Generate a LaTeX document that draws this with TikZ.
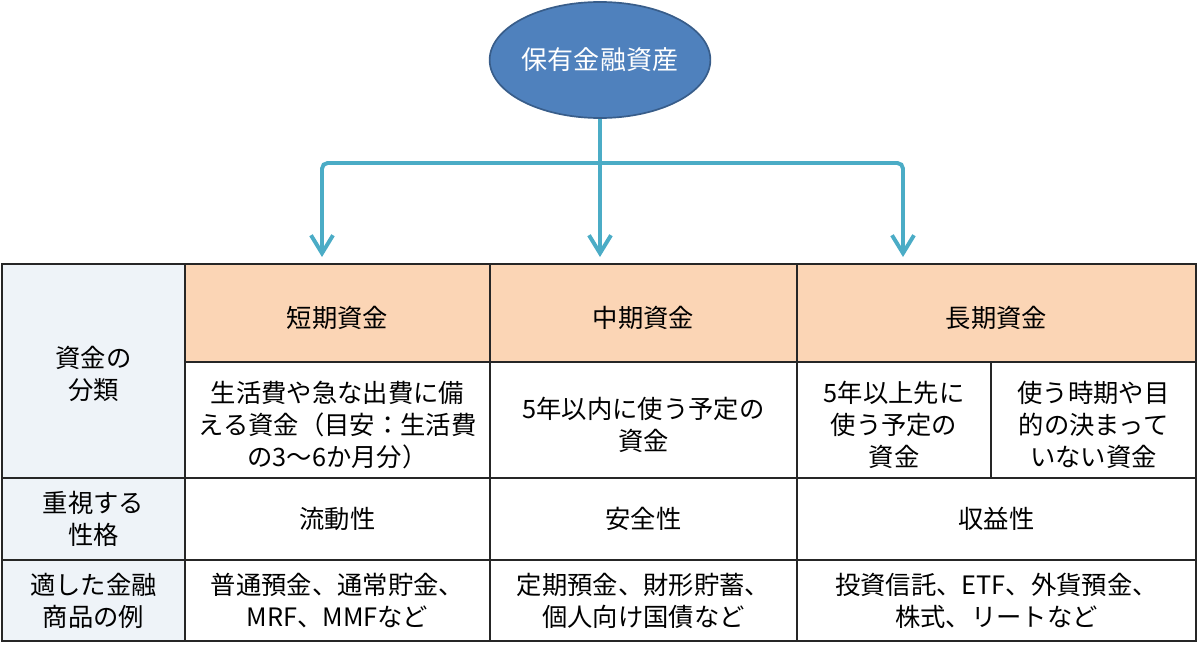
\documentclass[tikz,border=0pt]{standalone}
\usepackage{fontspec}
\setmainfont{Noto Sans CJK JP}
\usetikzlibrary{arrows.meta,shapes.geometric}

\definecolor{assetblue}{HTML}{4F81BD}
\definecolor{assetline}{HTML}{385D8A}
\definecolor{flowcyan}{HTML}{4BACC6}
\definecolor{headtan}{HTML}{FBD5B5}
\definecolor{sidegray}{HTML}{EEF3F8}

\begin{document}
\begin{tikzpicture}[x=0.025cm,y=-0.025cm,
  txt/.style={align=center,font=\fontsize{18}{22.8}\selectfont,inner sep=0pt},
  grid/.style={draw=black!85,line width=1.5pt},
  flow/.style={draw=flowcyan,line width=2.8pt,-{Straight Barb[length=4.5mm,width=5.5mm]}}]

\useasboundingbox (0,0) rectangle (1200,650);

% The root of the tree.
\node[ellipse,fill=assetblue,draw=assetline,line width=1.2pt,
  minimum width=4.95cm,minimum height=2.9cm,inner sep=0pt,
  text=white,font=\fontsize{18.5}{22}\selectfont] (asset) at (600,60) {保有金融資産};

% Define the ends of the arrows.
\coordinate (bar) at (600,163);
\coordinate (tipS) at (322,257);
\coordinate (tipM) at (600,257);
\coordinate (tipL) at (903,257);

\draw[flow] (asset.south) -- (tipM);
\draw[flow,rounded corners=4pt] (bar) -| (tipS);
\draw[flow,rounded corners=4pt] (bar) -| (tipL);

% Fill the cells.
\fill[sidegray] (2,264) rectangle (185,641);
\fill[headtan] (185,264) rectangle (1196,362);

% Draw the grid.
\draw[grid] (185,264) -- (185,641);
\draw[grid] (490,264) -- (490,641);
\draw[grid] (797,264) -- (797,641);
\draw[grid] (991,362) -- (991,478);
\draw[grid] (185,362) -- (1196,362);
\draw[grid] (2,478) -- (1196,478);
\draw[grid] (2,560) -- (1196,560);
\draw[grid,line width=2pt] (2,264) rectangle (1196,641);

% Row labels.
\node[txt] (kind) at (93.5,374) {資金の\\分類};
\node[txt] (trait) at (93.5,519) {重視する\\性格};
\node[txt] (goods) at (93.5,600.5) {適した金融\\商品の例};

% Headers.
\node[txt] (short) at (337.5,318) {短期資金};
\node[txt] (mid) at (643.5,318) {中期資金};
\node[txt] (long) at (996.5,318) {長期資金};

% What the money is for.
\node[txt] (shortuse) at (337.5,425) {生活費や急な出費に備\\える資金（目安：生活費\\の3～6か月分）};
\node[txt] (miduse) at (643.5,425) {5年以内に使う予定の\\資金};
\node[txt] (longuse) at (894,425) {5年以上先に\\使う予定の\\資金};
\node[txt] (freeuse) at (1093.5,425) {使う時期や目\\的の決まって\\いない資金};

% What matters most.
\node[txt] (liquid) at (337.5,519) {流動性};
\node[txt] (safe) at (643.5,519) {安全性};
\node[txt] (gain) at (996.5,519) {収益性};

% Examples.
\node[txt] (shortex) at (337.5,600.5) {普通預金、通常貯金、\\MRF、MMFなど};
\node[txt] (midex) at (643.5,600.5) {定期預金、財形貯蓄、\\個人向け国債など};
\node[txt] (longex) at (996.5,600.5) {投資信託、ETF、外貨預金、\\株式、リートなど};

\end{tikzpicture}
\end{document}
